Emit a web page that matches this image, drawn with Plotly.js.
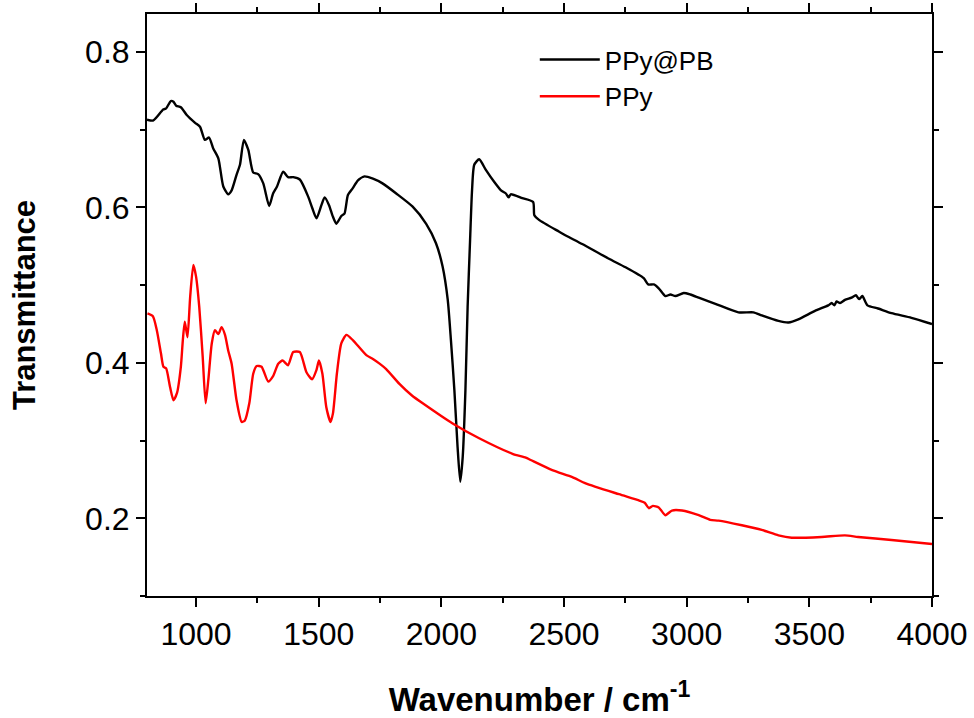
<!DOCTYPE html>
<html>
<head>
<meta charset="utf-8">
<script src="https://cdn.plot.ly/plotly-3.0.1.min.js"></script>
<style>html,body{margin:0;padding:0;background:#fff;}#chart{width:974px;height:718px;}</style>
</head>
<body>
<div id="chart"></div>
<script>
// PPy@PB (black)
const pbX = [800,826,866,878,897,908,919,938,962,996,1016,1036,1053,1070,1091,1111,1131,1145,1165,1179,1195,1213,1233,1253,1274,1298,1314,1330,1355,1375,1396,1423,1457,1474,1491,1511,1524,1542,1558,1572,1592,1605,1619,1639,1660,1687,1721,1760,1816,1883,1938,1978,2005,2026,2039,2053,2066,2077,2087,2098,2107,2117,2125,2134,2154,2182,2215,2243,2263,2274,2283,2330,2374,2379,2398,2479,2507,2574,2683,2751,2825,2843,2866,2886,2913,2934,2954,2988,3015,3049,3117,3211,3272,3306,3374,3415,3455,3523,3577,3591,3602,3611,3625,3645,3672,3690,3703,3716,3737,3780,3835,3916,4000];
const pbY = [0.713,0.712,0.726,0.7275,0.737,0.736,0.731,0.729,0.719,0.709,0.704,0.687,0.690,0.676,0.663,0.627,0.617,0.622,0.642,0.655,0.687,0.674,0.645,0.643,0.631,0.602,0.618,0.627,0.646,0.639,0.639,0.636,0.614,0.599,0.586,0.603,0.613,0.603,0.588,0.579,0.589,0.592,0.616,0.625,0.635,0.640,0.637,0.631,0.618,0.601,0.579,0.554,0.524,0.481,0.429,0.365,0.292,0.247,0.279,0.365,0.472,0.558,0.622,0.655,0.662,0.648,0.633,0.622,0.618,0.613,0.617,0.612,0.607,0.590,0.584,0.569,0.564,0.553,0.534,0.523,0.509,0.501,0.501,0.496,0.486,0.488,0.486,0.490,0.488,0.484,0.476,0.465,0.465,0.461,0.454,0.452,0.456,0.467,0.474,0.477,0.474,0.479,0.477,0.481,0.484,0.487,0.482,0.486,0.474,0.470,0.464,0.458,0.450];

// PPy (red)
const ppyX = [802,824,840,857,867,878,894,908,922,938,946,954,965,976,989,1000,1013,1027,1039,1050,1064,1077,1091,1104,1118,1131,1145,1165,1186,1199,1217,1233,1247,1267,1294,1314,1335,1353,1375,1396,1423,1450,1473,1491,1501,1515,1531,1548,1558,1574,1592,1613,1640,1694,1721,1748,1775,1829,1880,1924,2046,2154,2290,2344,2364,2452,2534,2588,2724,2805,2829,2846,2862,2886,2913,2940,2981,3049,3096,3130,3225,3306,3374,3428,3550,3645,3699,3835,4000];
const ppyY = [0.4636,0.460,0.442,0.412,0.395,0.393,0.369,0.352,0.361,0.395,0.429,0.453,0.433,0.485,0.526,0.511,0.472,0.408,0.348,0.378,0.425,0.442,0.437,0.446,0.436,0.416,0.399,0.352,0.324,0.326,0.348,0.386,0.396,0.395,0.376,0.383,0.399,0.403,0.397,0.414,0.414,0.388,0.379,0.391,0.403,0.386,0.343,0.324,0.335,0.386,0.425,0.436,0.429,0.410,0.405,0.399,0.392,0.373,0.358,0.348,0.322,0.303,0.283,0.278,0.275,0.262,0.253,0.245,0.231,0.223,0.220,0.213,0.216,0.214,0.204,0.210,0.210,0.204,0.198,0.197,0.191,0.185,0.178,0.175,0.176,0.178,0.176,0.172,0.167];

const seriesNames = ['PPy@PB', 'PPy'];
const xTickVals = [1000,1500,2000,2500,3000,3500,4000];
const yTickVals = [0.2,0.4,0.6,0.8];
const yTickText = ['0.2','0.4','0.6','0.8'];

const FONT = 'Liberation Sans, Arial, sans-serif';

const traces = [
  {x: pbX, y: pbY, name: seriesNames[0], type: 'scatter', mode: 'lines',
   line: {color: '#000000', width: 2.4, shape: 'spline', smoothing: 0.6}},
  {x: ppyX, y: ppyY, name: seriesNames[1], type: 'scatter', mode: 'lines',
   line: {color: '#ff0000', width: 2.4, shape: 'spline', smoothing: 0.6}}
];

const layout = {
  width: 974, height: 718,
  margin: {l: 147, r: 42, t: 14, b: 122},
  paper_bgcolor: '#fff', plot_bgcolor: '#fff',
  showlegend: true,
  legend: {x: 0.494, y: 0.962, xanchor: 'left', yanchor: 'top',
           bgcolor: 'rgba(0,0,0,0)', font: {family: FONT, size: 26, color: '#000'},
           tracegroupgap: 0, itemwidth: 60},
  xaxis: {
    range: [800, 4000], tickvals: xTickVals, ticktext: xTickVals.map(String),
    showgrid: false, zeroline: false, showline: true, linecolor: '#000', linewidth: 2,
    mirror: 'ticks', ticks: 'outside', ticklen: 9, tickwidth: 2, tickcolor: '#000',
    minor: {dtick: 250, tick0: 750, ticks: 'outside', ticklen: 5, tickwidth: 2, tickcolor: '#000', showgrid: false},
    tickfont: {family: FONT, size: 32, color: '#000'},
    title: {text: '<b>Wavenumber / cm<sup>-1</sup></b>', font: {family: FONT, size: 33, color: '#000'}, standoff: 36}
  },
  yaxis: {
    range: [0.1, 0.849], tickvals: yTickVals, ticktext: yTickText,
    showgrid: false, zeroline: false, showline: true, linecolor: '#000', linewidth: 2,
    mirror: 'ticks', ticks: 'outside', ticklen: 9, tickwidth: 2, tickcolor: '#000',
    minor: {dtick: 0.1, tick0: 0.1, ticks: 'outside', ticklen: 5, tickwidth: 2, tickcolor: '#000', showgrid: false},
    tickfont: {family: FONT, size: 32, color: '#000'},
    title: {text: '<b>Transmittance</b>', font: {family: FONT, size: 31, color: '#000'}, standoff: 40}
  }
};

Plotly.newPlot('chart', traces, layout, {displayModeBar: false, staticPlot: true});
</script>
</body>
</html>
